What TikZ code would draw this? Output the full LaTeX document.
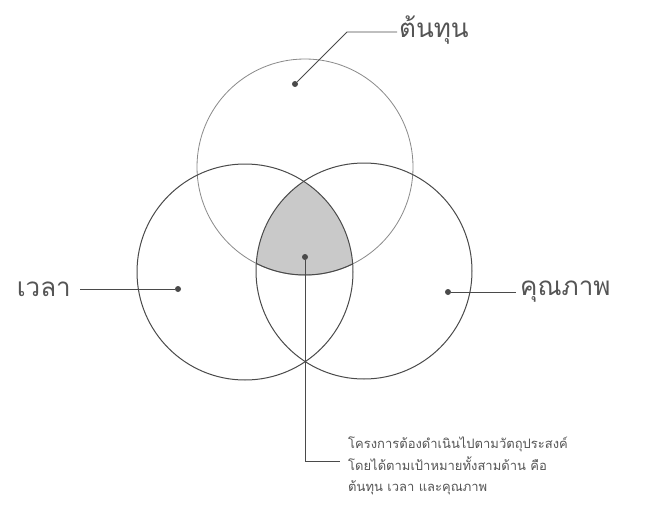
\documentclass[tikz,border=0pt]{standalone}
\usepackage{fontspec}
\newfontfamily\thaifont[Script=Thai]{Loma}
\usetikzlibrary{positioning}
\definecolor{inkdark}{HTML}{4A4A4A}
\definecolor{inklight}{HTML}{8A8A8A}
\definecolor{inktext}{HTML}{555555}
\definecolor{sharegray}{HTML}{C9C9C9}

\begin{document}
\begin{tikzpicture}[
    x=1pt, y=-1pt,
    every node/.style={font=\thaifont, text=inktext},
    ring/.style={draw=inkdark, line width=1pt},
    lightring/.style={draw=inklight, line width=0.8pt},
    dot/.style={circle, fill=inkdark, inner sep=0pt, minimum size=6pt},
    leader/.style={draw=inkdark, line width=0.8pt},
    tag/.style={font=\thaifont\fontsize{26}{30}\selectfont, inner sep=2pt},
    note/.style={font=\thaifont\fontsize{13}{21.5}\selectfont, align=left, inner sep=0pt}
]
\useasboundingbox[fill=white] (0,0) rectangle (672,511);
% circle centres
\coordinate (cost) at (305,167);
\coordinate (time) at (245,272);
\coordinate (quality) at (364,271);
% shared area
\begin{scope}
  \clip (cost) circle (108);
  \clip (time) circle (108);
  \fill[sharegray] (quality) circle (108);
\end{scope}
\draw[lightring] (cost) circle (108);
\begin{scope}
  \clip (time) circle (108);
  \clip (quality) circle (108);
  \draw[ring] (cost) circle (108);
\end{scope}
\draw[ring] (time) circle (108);
\draw[ring] (quality) circle (108);
% dots
\node[dot] (costdot) at (295,84) {};
\node[dot] (timedot) at (178,289) {};
\node[dot] (qualitydot) at (448,292) {};
\node[dot] (middot) at (305,257) {};
% labels
\node[tag, anchor=west] (costlabel) at (397,30) {ต้นทุน};
\node[tag, anchor=east, inner xsep=9pt] (timelabel) at (80,289) {เวลา};
\node[tag, anchor=west, inner xsep=4pt] (qualitylabel) at (516,292) {คุณภาพ};
\node[note, anchor=west] (notelabel) at (348,466) {โครงการต้องดำเนินไปตามวัตถุประสงค์\\โดยได้ตามเป้าหมายทั้งสามด้าน คือ\\ต้นทุน เวลา และคุณภาพ};
\coordinate (costbend) at (347,32);
\coordinate (noteend) at (340,461);
% leaders
\draw[leader] (costdot) -- (costbend) -- (costlabel.west |- costbend);
\draw[leader] (timedot) -- (timelabel.east);
\draw[leader] (qualitydot) -- (qualitylabel.west);
\draw[leader] (middot) |- (noteend);
\end{tikzpicture}
\end{document}
